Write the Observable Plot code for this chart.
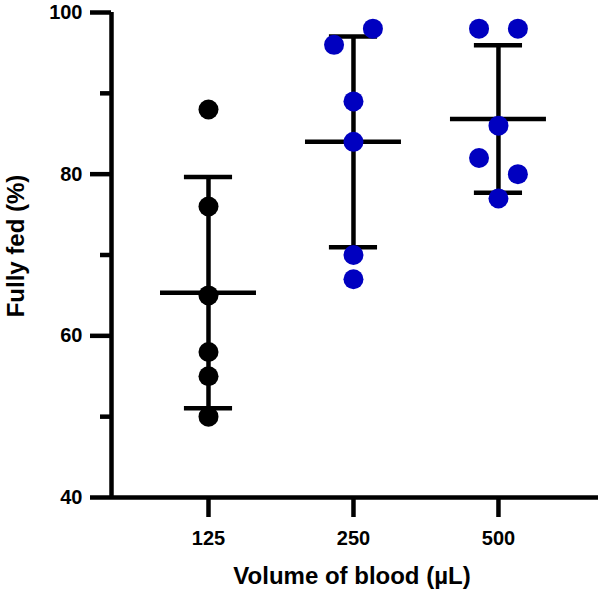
<!DOCTYPE html>
<html>
<head>
<meta charset="utf-8">
<script src="https://cdn.jsdelivr.net/npm/d3@7"></script>
<script src="https://cdn.jsdelivr.net/npm/@observablehq/plot@0.6"></script>
<style>
  html, body { margin: 0; padding: 0; background: #fff; }
</style>
</head>
<body>
<div id="chart"></div>
<script>
// ---- data ----
const groups = ["125", "250", "500"];
const fed125 = [88, 76, 65, 58, 55, 50];
const fed250 = [98, 96, 89, 84, 70, 67];
const fed500 = [98, 98, 86, 82, 80, 77];
// horizontal scatter side of each point (-1 left, 0 centre, 1 right)
const side125 = [0, 0, 0, 0, 0, 0];
const side250 = [1, -1, 0, 0, 0, 0];
const side500 = [-1, 1, 0, -1, 1, 0];
const groupColors = ["#000000", "#0000C0", "#0000C0"];
const yMajorTicks = [40, 60, 80, 100];
const yMinorTicks = [50, 70, 90];
const yLabel = "Fully fed (%)";
const xLabel = "Volume of blood (µL)";

// ---- build tables ----
const values = [fed125, fed250, fed500];
const sides = [side125, side250, side500];
const jitter = 0.134;
const points = [];
values.forEach((vals, gi) => vals.forEach((v, j) => points.push({
  gi, value: v, xpos: gi + sides[gi][j] * jitter, color: groupColors[gi]
})));
const stats = values.map((vals, gi) => ({
  gi, mean: d3.mean(vals), sd: d3.deviation(vals)
}));

const xDomain = [-0.669, 2.69];
const meanHalf = 0.331, capHalf = 0.166;
const sw = 4.5;
const font = "'Liberation Sans', Arial, Helvetica, sans-serif";

const chart = Plot.plot({
  width: 598,
  height: 591,
  marginLeft: 111,
  marginTop: 12,
  marginBottom: 94,
  marginRight: 0,
  style: { fontFamily: font, background: "#fff", color: "#000" },
  x: { type: "linear", domain: xDomain, axis: null },
  y: { domain: [40, 100], axis: null },
  marks: [
    // axis lines
    Plot.ruleX([xDomain[0]], { y1: 40, y2: 100, stroke: "#000", strokeWidth: sw }),
    Plot.ruleY([40], { stroke: "#000", strokeWidth: sw }),
    // y axis ticks + labels
    Plot.axisY({ ticks: yMajorTicks, tickSize: 21, tickPadding: 8, strokeWidth: sw,
      fontSize: 20, fontWeight: "bold", label: null, tickFormat: d => String(d) }),
    Plot.axisY({ ticks: yMinorTicks, tickSize: 11, strokeWidth: sw, tickFormat: () => "", label: null }),
    // x axis ticks + labels
    Plot.axisX({ ticks: [0, 1, 2], tickSize: 20, tickPadding: 13, strokeWidth: sw,
      fontSize: 20, fontWeight: "bold", tickFormat: i => groups[i], label: null }),
    // axis titles
    Plot.text([yLabel], { frameAnchor: "left", rotate: -90, textAnchor: "middle", lineAnchor: "middle",
      dx: -95, dy: -9, fontSize: 24, fontWeight: "bold", fill: "#000" }),
    Plot.text([xLabel], { frameAnchor: "bottom", textAnchor: "middle", lineAnchor: "bottom",
      dx: -3, dy: 86, fontSize: 24, fontWeight: "bold", fill: "#000" }),
    // error bars: mean ± SD
    Plot.ruleX(stats, { x: "gi", y1: d => d.mean - d.sd, y2: d => d.mean + d.sd, stroke: "#000", strokeWidth: sw }),
    Plot.ruleY(stats, { y: "mean", x1: d => d.gi - meanHalf, x2: d => d.gi + meanHalf, stroke: "#000", strokeWidth: sw }),
    Plot.ruleY(stats, { y: d => d.mean + d.sd, x1: d => d.gi - capHalf, x2: d => d.gi + capHalf, stroke: "#000", strokeWidth: sw }),
    Plot.ruleY(stats, { y: d => d.mean - d.sd, x1: d => d.gi - capHalf, x2: d => d.gi + capHalf, stroke: "#000", strokeWidth: sw }),
    // points
    Plot.dot(points, { x: "xpos", y: "value", r: 10, fill: "color", stroke: "none" })
  ]
});
document.getElementById("chart").appendChild(chart);
</script>
</body>
</html>
